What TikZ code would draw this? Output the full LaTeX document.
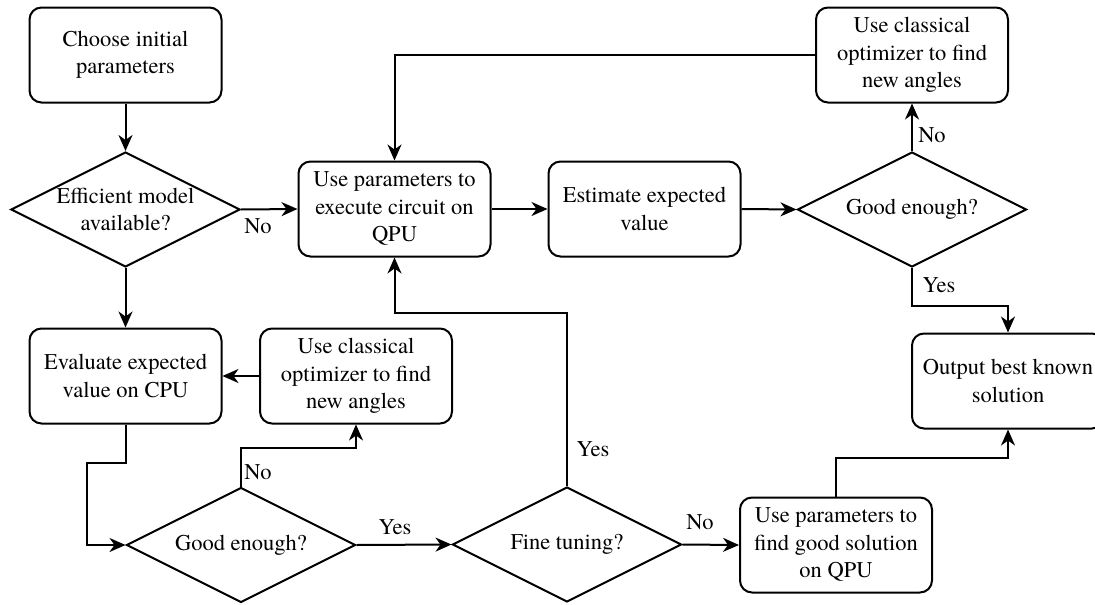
\documentclass[tikz,border=0pt]{standalone}
\usepackage{fontspec}
\setmainfont{TeX Gyre Termes}
\usetikzlibrary{shapes.geometric,arrows.meta}
\begin{document}
\begin{tikzpicture}[x=1pt,y=-1pt,
  every node/.style={font=\rmfamily\fontsize{22.5}{27.5}\selectfont},
  stepbox/.style={draw,line width=2pt,rounded corners=12pt,minimum width=192pt,minimum height=95pt,align=center,inner sep=0pt},
  decide/.style={draw,line width=2pt,diamond,minimum width=229pt,minimum height=115pt,inner sep=0pt},
  dtext/.style={align=center,inner sep=0pt},
  lab/.style={inner sep=0pt},
  flow/.style={line width=2pt,-{Stealth[length=16pt,width=14pt,inset=5pt]}}]
\useasboundingbox (0,0) rectangle (1095,605);
\fill[white] (0,0) rectangle (1095,605);

% process boxes
\node[stepbox] (choose) at (125.5,55) {Choose initial\\parameters};
\node[stepbox] (exec) at (394.5,209) {Use parameters to\\execute circuit on\\QPU};
\node[stepbox] (est) at (644.5,209) {Estimate expected\\value};
\node[stepbox] (opta) at (912,55) {Use classical\\optimizer to find\\new angles};
\node[stepbox] (outp) at (1008,381) {Output best known\\solution};
\node[stepbox] (evalcpu) at (125.5,376) {Evaluate expected\\value on CPU};
\node[stepbox] (optb) at (356,376) {Use classical\\optimizer to find\\new angles};
\node[stepbox] (findq) at (836,545) {Use parameters to\\find good solution\\on QPU};

% decisions (outline and caption kept apart so the caption does not size the shape)
\node[decide] (eff) at (125.5,209.5) {};
\node[dtext] (efft) at (eff) {Efficient model\\available?};
\node[decide] (gooda) at (912,209.5) {};
\node[dtext] (goodat) at (gooda) {Good enough?};
\node[decide] (goodb) at (241,545) {};
\node[dtext] (goodbt) at (goodb) {Good enough?};
\node[decide] (fine) at (567,544.5) {};
\node[dtext] (finet) at (fine) {Fine tuning?};

% connectors
\draw[flow] (choose.south) -- (eff.north);
\draw[flow] (eff.east) -- (exec.west);
\draw[flow] (eff.south) -- (evalcpu.north);
\draw[flow] (exec.east) -- (est.west);
\draw[flow] (est.east) -- (gooda.west);
\draw[flow] (gooda.north) -- (opta.south);
\draw[flow] (opta.west) -| (exec.north);
\draw[flow] (gooda.south) -- ++(0,37.5) -| (outp.north);
\draw[flow] (findq.north) -- ++(0,-39) -| (outp.south);
\draw[flow] (optb.west) -- (evalcpu.east);
\draw[flow] (evalcpu.south) -- ++(0,38) -- ++(-38.5,0) |- (goodb.west);
\draw[flow] (goodb.north) -- ++(0,-39) -| (optb.south);
\draw[flow] (goodb.east) -- (fine.west);
\draw[flow] (fine.north) -- ++(0,-173) -| (exec.south);
\draw[flow] (fine.east) -- (findq.west);

% branch labels
\node[lab] (l1) at (258,226) {No};
\node[lab] (l2) at (932,135) {No};
\node[lab] (l3) at (939,285) {Yes};
\node[lab] (l4) at (258,472) {No};
\node[lab] (l5) at (395,527) {Yes};
\node[lab] (l6) at (593,449) {Yes};
\node[lab] (l7) at (700,522) {No};
\end{tikzpicture}
\end{document}
